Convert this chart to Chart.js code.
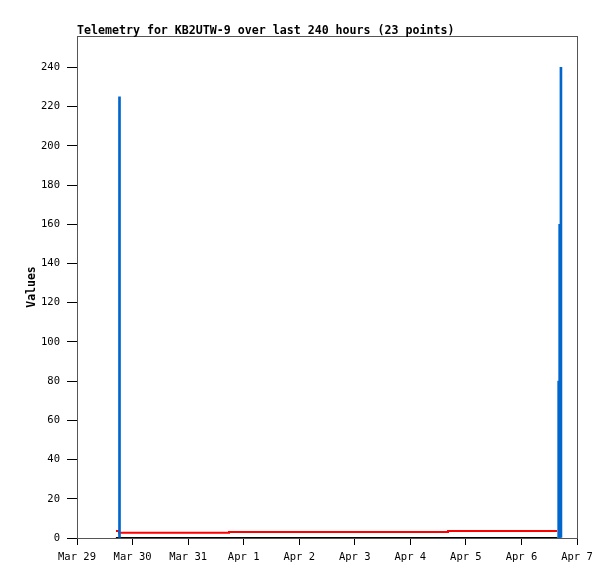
<!DOCTYPE html>
<html>
<head>
<meta charset="utf-8">
<script src="https://cdn.jsdelivr.net/npm/chart.js@4/dist/chart.umd.min.js"></script>
<style>
  html, body { margin: 0; padding: 0; background: #fff; }
  #wrap { width: 615px; height: 579px; }
</style>
</head>
<body>
<div id="wrap"><canvas id="c" width="615" height="579"></canvas></div>
<script>
// Time axis in days since Mar 29 00:00
const tickLabels = ["Mar 29", "Mar 30", "Mar 31", "Apr 1", "Apr 2", "Apr 3", "Apr 4", "Apr 5", "Apr 6", "Apr 7"];
const yTicks = [0, 20, 40, 60, 80, 100, 120, 140, 160, 180, 200, 220, 240];

// Blue impulses (time in days, value)
const blueTimes  = [0.765, 8.670, 8.688, 8.711];
const blueValues = [225, 80, 160, 240];

// Red step series
const redTimes  = [0.702, 0.756, 2.736, 6.678, 8.640];
const redValues = [3.6, 2.7, 3.1, 3.6, 3.6];

// Black series (zero)
const blackTimes  = [0.700, 8.650];
const blackValues = [0, 0];

const title = "Telemetry for KB2UTW-9 over last 240 hours (23 points)";
const yTitle = "Values";

const zip = (xs, ys) => xs.map((x, i) => ({ x: x, y: ys[i] }));

const frame = {
  id: 'frame',
  beforeDatasetsDraw(chart) {
    const { ctx, chartArea: a } = chart;
    ctx.save();
    ctx.strokeStyle = '#555';
    ctx.lineWidth = 1;
    ctx.strokeRect(a.left + 0.5, a.top + 0.5, a.right - a.left, a.bottom - a.top);
    ctx.restore();
  },
  afterDraw(chart) {
    const { ctx, chartArea: a } = chart;
    ctx.save();
    ctx.fillStyle = '#000';
    let size = 11.4;
    ctx.font = 'bold ' + size + 'px "DejaVu Sans Mono", monospace';
    const w = ctx.measureText(title).width;
    size = size * 377 / w;
    ctx.font = 'bold ' + size.toFixed(2) + 'px "DejaVu Sans Mono", monospace';
    ctx.textBaseline = 'alphabetic';
    ctx.textAlign = 'left';
    ctx.fillText(title, a.left, 34);
    ctx.restore();
  }
};

new Chart(document.getElementById('c'), {
  type: 'line',
  data: {
    datasets: [
      {
        type: 'line',
        label: 'black',
        data: zip(blackTimes, blackValues),
        borderColor: '#000',
        borderWidth: 2,
        pointRadius: 0,
        order: 3
      },
      {
        type: 'line',
        label: 'red',
        data: zip(redTimes, redValues),
        borderColor: '#ff0000',
        borderWidth: 2,
        pointRadius: 0,
        stepped: true,
        order: 2
      },
      {
        type: 'bar',
        label: 'blue',
        data: zip(blueTimes, blueValues),
        backgroundColor: '#0066cc',
        borderWidth: 0,
        barThickness: 2,
        order: 1
      }
    ]
  },
  options: {
    responsive: false,
    animation: false,
    devicePixelRatio: 1,
    layout: { padding: { top: 36, right: 38, left: 0, bottom: 0 } },
    plugins: {
      legend: { display: false },
      tooltip: { enabled: false },
      title: { display: false }
    },
    scales: {
      x: {
        type: 'linear',
        min: 0,
        max: 9,
        offset: false,
        afterBuildTicks(scale) { scale.ticks = tickLabels.map((_, i) => ({ value: i })); },
        afterFit(scale) { scale.height = 41; },
        ticks: {
          autoSkip: false,
          maxRotation: 0,
          padding: 6,
          color: '#000',
          font: { family: '"DejaVu Sans Mono", monospace', size: 10.5 },
          callback: (v) => tickLabels[v]
        },
        grid: { display: true, drawOnChartArea: false, drawTicks: true, tickLength: 7, color: '#000', offset: false },
        border: { display: true, color: '#555', width: 1 }
      },
      y: {
        type: 'linear',
        min: 0,
        max: 256,
        afterBuildTicks(scale) { scale.ticks = yTicks.map(v => ({ value: v })); },
        afterFit(scale) { scale.width = 77; },
        ticks: {
          padding: 7,
          color: '#000',
          font: { family: '"DejaVu Sans Mono", monospace', size: 10.5 }
        },
        grid: { display: true, drawOnChartArea: false, drawTicks: true, tickLength: 10, color: '#000' },
        border: { display: true, color: '#555', width: 1 },
        title: {
          display: true,
          text: yTitle,
          color: '#000',
          padding: { top: 25, bottom: 0 },
          font: { family: '"DejaVu Sans Mono", monospace', size: 11.5, weight: 'bold' }
        }
      }
    }
  },
  plugins: [frame]
});
</script>
</body>
</html>
